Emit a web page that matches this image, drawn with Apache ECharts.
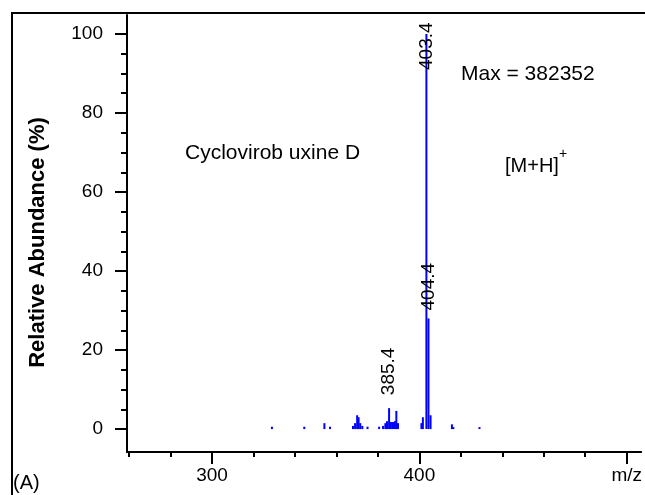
<!DOCTYPE html>
<html>
<head>
<meta charset="utf-8">
<script src="https://cdn.jsdelivr.net/npm/echarts@6/dist/echarts.min.js"></script>
<style>
html,body{margin:0;padding:0;background:#fff;}
#main{width:645px;height:495px;}
</style>
</head>
<body>
<div id="main"></div>
<script>
// peaks (m/z, relative abundance %)
var mzList = [328.9, 344.5, 354.2, 356.9, 368.0, 369.0, 370.0, 370.7, 371.5, 372.5, 375.0, 380.6,
	382.5, 383.6, 384.4, 385.4, 386.3, 387.3, 388.2, 388.9, 389.7,
	401.0, 401.7, 403.4, 404.4, 405.4, 415.7, 416.4, 429.0];
var abundList = [0.6, 0.6, 1.5, 0.6, 0.8, 1.5, 3.5, 3.0, 1.5, 0.8, 0.6, 0.6,
	0.8, 1.5, 2.0, 5.3, 1.8, 1.8, 2.0, 4.6, 1.5,
	1.5, 3.0, 100, 28, 3.5, 1.2, 0.5, 0.5];
var labelledPeaks = [403.4, 404.4, 385.4];
var labelShift = [36, -8, -13];   // where the rotated text sits against the bar top

var xMajor = [300, 400, 500];
var xMinor = [260, 280, 320, 340, 360, 380, 420, 440, 460, 480];
var yMajor = [0, 20, 40, 60, 80, 100];
var yMinor = [5, 10, 15, 25, 30, 35, 45, 50, 55, 65, 70, 75, 85, 90, 95];

var FONT = '"Liberation Sans", Arial, Helvetica, sans-serif';

var barData = [];
for (var i = 0; i < mzList.length; i++) {
	var item = {value: [mzList[i], abundList[i]]};
	var k = labelledPeaks.indexOf(mzList[i]);
	if (k >= 0) {
		item.label = {
			show: true,
			formatter: String(mzList[i]),
			rotate: 90,
			position: ['50%', labelShift[k]],
			align: 'left',
			verticalAlign: 'middle',
			color: '#000',
			fontSize: 19,
			fontFamily: FONT
		};
	}
	barData.push(item);
}

var dom = document.getElementById('main');
var myChart = echarts.init(dom, null, {renderer: 'canvas'});

var option = {
	backgroundColor: '#fff',
	animation: false,
	grid: {left: 127, top: 15, right: 0, bottom: 43, containLabel: false},
	xAxis: [
		{
			type: 'value', min: 259, max: 507,
			axisLine: {onZero: false, lineStyle: {color: '#000', width: 2}},
			axisTick: {customValues: xMajor, length: 12, lineStyle: {color: '#000', width: 2}},
			axisLabel: {
				customValues: xMajor, margin: 14, color: '#000', fontSize: 19, fontFamily: FONT,
				formatter: function (v) { return v === 500 ? 'm/z' : String(v); }
			},
			splitLine: {show: false}
		},
		{
			type: 'value', min: 259, max: 507, position: 'bottom',
			axisLine: {show: false, onZero: false},
			axisTick: {customValues: xMinor, length: 5, lineStyle: {color: '#000', width: 2}},
			axisLabel: {show: false},
			splitLine: {show: false}
		}
	],
	yAxis: [
		{
			type: 'value', min: -5.8, max: 104.8,
			name: 'Relative Abundance (%)',
			nameLocation: 'middle',
			nameGap: 78,
			nameTextStyle: {color: '#000', fontSize: 22, fontWeight: 'bold', fontFamily: FONT, padding: [0, 18, 0, 0]},
			axisLine: {onZero: false, lineStyle: {color: '#000', width: 2}},
			axisTick: {customValues: yMajor, length: 12, lineStyle: {color: '#000', width: 2}},
			axisLabel: {customValues: yMajor, margin: 24, color: '#000', fontSize: 19, fontFamily: FONT},
			splitLine: {show: false}
		},
		{
			type: 'value', min: -5.8, max: 104.8, position: 'left',
			axisLine: {show: false, onZero: false},
			axisTick: {customValues: yMinor, length: 6, lineStyle: {color: '#000', width: 2}},
			axisLabel: {show: false},
			splitLine: {show: false}
		}
	],
	series: [
		{
			type: 'bar',
			xAxisIndex: 0,
			yAxisIndex: 0,
			barWidth: 2,
			itemStyle: {color: '#0000ff'},
			data: barData
		}
	],
	graphic: [
		{type: 'polyline', shape: {points: [[12, 495], [12, 13], [645, 13]]}, style: {fill: null, stroke: '#000', lineWidth: 2}},
		{type: 'text', x: 185, y: 153, style: {text: 'Cyclovirob uxine D', font: '21px ' + FONT, fill: '#000', verticalAlign: 'middle'}},
		{type: 'text', x: 461, y: 74, style: {text: 'Max = 382352', font: '21px ' + FONT, fill: '#000', verticalAlign: 'middle'}},
		{type: 'text', x: 505, y: 166, style: {text: '[M+H]', font: '20px ' + FONT, fill: '#000', verticalAlign: 'middle'}},
		{type: 'text', x: 559, y: 154, style: {text: '+', font: '14px ' + FONT, fill: '#000', verticalAlign: 'middle'}},
		{type: 'text', x: 13, y: 483, style: {text: '(A)', font: '20px ' + FONT, fill: '#000', verticalAlign: 'middle'}}
	]
};

if (option && typeof option === 'object') {
	myChart.setOption(option, true);
}
</script>
</body>
</html>
